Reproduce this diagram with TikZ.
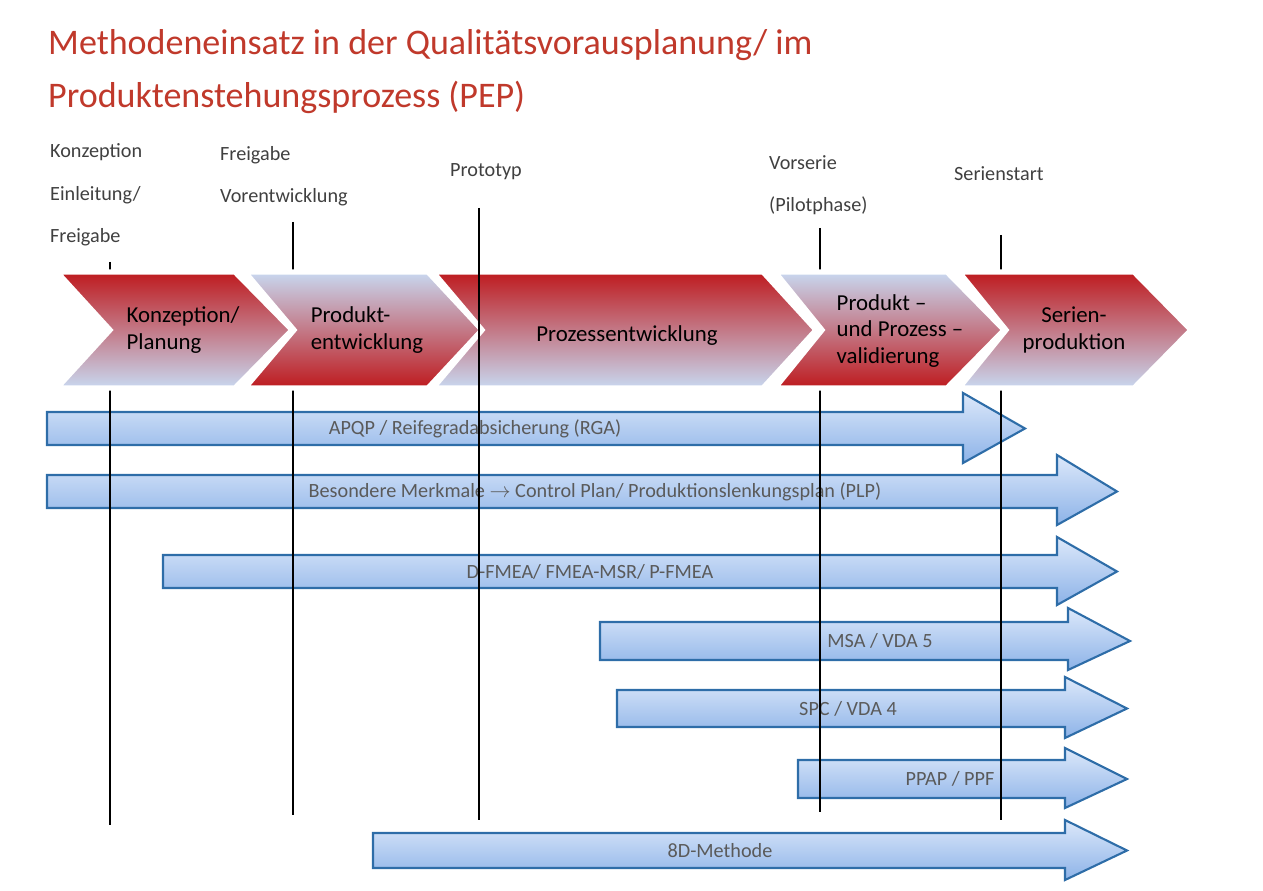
\documentclass[tikz,border=0pt]{standalone}
\usepackage{fontspec}
\setmainfont{Carlito}
\usetikzlibrary{positioning}
\definecolor{titlered}{HTML}{C0392B}
\definecolor{darkred}{HTML}{BE1A1E}
\definecolor{paleblue}{HTML}{C8D8F0}
\definecolor{arrowtop}{HTML}{DCE8FA}
\definecolor{arrowbot}{HTML}{8DB3E8}
\definecolor{arrowline}{HTML}{2E6DA8}
\definecolor{labelgrey}{HTML}{5A5A5A}
\tikzset{
	redchev/.style={top color=darkred,bottom color=paleblue,draw=white,line width=3},
	bluechev/.style={top color=paleblue,bottom color=darkred,draw=white,line width=3},
	blockarrow/.style={top color=arrowtop,bottom color=arrowbot,draw=arrowline,line width=1.2},
	milestone/.style={anchor=west,font=\fontsize{11.5}{13}\selectfont,text=black!75},
	phasetext/.style={align=left,font=\fontsize{13}{15}\selectfont,text=black},
	arrowtext/.style={font=\fontsize{11.5}{13}\selectfont,text=labelgrey},
	timeline/.style={line width=1.2,black}
}
\begin{document}
\begin{tikzpicture}[x=0.02cm,y=0.02cm]
	\useasboundingbox (0,0) rectangle (1263,-891);
	%Title
	\node [anchor=west,text=titlered,font=\fontsize{20.5}{24}\selectfont] (title1) at (42,-45) {Methodeneinsatz in der Qualitätsvorausplanung/ im};
	\node [anchor=west,text=titlered,font=\fontsize{20.5}{24}\selectfont] (title2) at (42,-97) {Produktenstehungsprozess (PEP)};
	%Milestones
	\node [milestone] (m1a) at (44,-152) {Konzeption};
	\node [milestone] (m1b) at (44,-195) {Einleitung/};
	\node [milestone] (m1c) at (44,-237) {Freigabe};
	\node [milestone] (m2a) at (214,-155) {Freigabe};
	\node [milestone] (m2b) at (214,-197) {Vorentwicklung};
	\node [milestone] (m3) at (444,-172) {Prototyp};
	\node [milestone] (m4a) at (763,-163) {Vorserie};
	\node [milestone] (m4b) at (763,-206) {(Pilotphase)};
	\node [milestone] (m5) at (948,-174) {Serienstart};
	%Block arrows: start, head start, tip, body top, body bottom, head top, head bottom, label centre
	\foreach \n/\xa/\xh/\xt/\yt/\yb/\yht/\yhb/\xl/\txt in {
		apqp/47/963/1025/412/445/393/463/475/{APQP / Reifegradabsicherung (RGA)},
		merk/47/1057/1117/475/508/455/525/595/{Besondere Merkmale \(\rightarrow\) Control Plan/ Produktionslenkungsplan (PLP)},
		fmea/163/1057/1117/555/588/537/605/590/{D-FMEA/ FMEA-MSR/ P-FMEA},
		msa/600/1068/1130/622/660/608/670/880/{MSA / VDA 5},
		spc/617/1065/1127/690/727/677/738/848/{SPC / VDA 4},
		ppap/798/1065/1127/760/798/748/808/950/{PPAP / PPF},
		acht/373/1065/1127/833/868/820/880/720/{8D-Methode}} {
		\draw [blockarrow] (\xa,-\yt) -- (\xh,-\yt) -- (\xh,-\yht) -- (\xt,{-(\yt+\yb)/2}) -- (\xh,-\yhb) -- (\xh,-\yb) -- (\xa,-\yb) -- cycle;
		\node [arrowtext] (\n) at (\xl,{-(\yt+\yb)/2}) {\txt};
	}
	%Time lines
	\draw [timeline] (110,-262) -- (110,-825);
	\draw [timeline] (293,-222) -- (293,-815);
	\draw [timeline] (820,-228) -- (820,-812);
	\draw [timeline] (1001,-235) -- (1001,-820);
	%Phases
	\draw [redchev] (57,-272) -- (235,-272) -- (292,-330) -- (235,-388) -- (57,-388) -- (110,-330) -- cycle;
	\draw [bluechev] (245,-272) -- (428,-272) -- (482,-330) -- (428,-388) -- (245,-388) -- (294,-330) -- cycle;
	\draw [redchev] (433,-272) -- (763,-272) -- (816,-330) -- (763,-388) -- (433,-388) -- (482,-330) -- cycle;
	\draw [bluechev] (775,-272) -- (947,-272) -- (1004,-330) -- (947,-388) -- (775,-388) -- (822,-330) -- cycle;
	\draw [redchev] (959,-272) -- (1134,-272) -- (1191,-330) -- (1134,-388) -- (959,-388) -- (1006,-330) -- cycle;
	\draw [timeline] (479,-208) -- (479,-820);
	\node [phasetext] (p1) at (183,-330) {Konzeption/\\Planung};
	\node [phasetext] (p2) at (367,-330) {Produkt-\\entwicklung};
	\node [phasetext] (p3) at (627,-336) {Prozessentwicklung};
	\node [phasetext] (p4) at (900,-331) {Produkt --\\und Prozess --\\validierung};
	\node [phasetext,align=center] (p5) at (1074,-330) {Serien-\\produktion};
\end{tikzpicture}
\end{document}
